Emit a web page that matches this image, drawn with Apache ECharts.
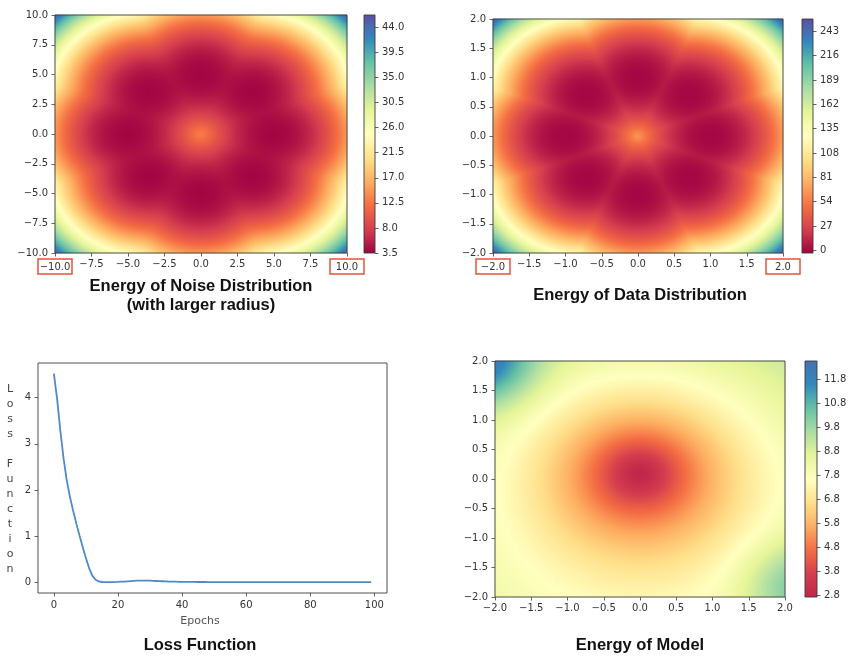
<!DOCTYPE html>
<html><head><meta charset="utf-8">
<script src="https://cdn.jsdelivr.net/npm/echarts@6/dist/echarts.min.js"></script>
<style>html,body{margin:0;padding:0;background:#fff}#c{width:850px;height:658px}</style>
</head><body><div id="c"></div>
<script>
// ---------------- data ----------------
const spectral = ['#9e0142','#d53e4f','#f46d43','#fdae61','#fee08b','#ffffbf','#e6f598','#abdda4','#66c2a5','#3288bd','#5e4fa2'];
const spectralModel = ['#bf264a','#d53e4f','#f46d43','#fdae61','#fee08b','#ffffbf','#e6f598','#abdda4','#66c2a5','#3288bd','#4471b2'];

const noiseAxisRange = [-10, 10];
const dataAxisRange = [-2, 2];
const modelAxisRange = [-2, 2];
const noiseBoxedTicks = [-10, 10];
const dataBoxedTicks = [-2, 2];

const noiseBarTicks = [3.5, 8.0, 12.5, 17.0, 21.5, 26.0, 30.5, 35.0, 39.5, 44.0];
const dataBarTicks = [0, 27, 54, 81, 108, 135, 162, 189, 216, 243];
const modelBarTicks = [2.8, 3.8, 4.8, 5.8, 6.8, 7.8, 8.8, 9.8, 10.8, 11.8];
const noiseBarRange = [3.5, 46.2];
const dataBarRange = [-3.0, 256.7];
const modelBarRange = [2.74, 12.58];

// 8-mode mixtures (angles of the modes, radius, spread, shape exponent, energy offset)
const modeAnglesDeg = [0, 45, 90, 135, 180, 225, 270, 315];
const noiseRadius = 5.0, noiseSigma = 1.224, noiseOffset = 3.92;
const dataRadius = 1.0, dataSigma = 0.1073, dataOffset = 0.0;
const modeShape = 2.2;

// model energy surface parameters
const modelCenter = [0.0, 0.1];
const modelFloor = 2.8;
const modelBowl = [7.0, 1.45, 0.2];     // amplitude, length, core softness
const modelTiltY = 0.25;
const modelBumps = [                    // [x, y, amplitude, width]
  [-2.2, 2.0, 3.2, 0.52],
  [2.2, -1.8, 2.1, 0.55]
];

// loss curve (one value per epoch)
const lossValues = [4.52,3.98,3.30,2.70,2.22,1.86,1.56,1.28,1.02,0.77,
 0.53,0.31,0.15,0.06,0.025,0.012,0.008,0.008,0.009,0.011,
 0.014,0.018,0.022,0.027,0.032,0.036,0.040,0.042,0.043,0.042,
 0.040,0.037,0.034,0.031,0.028,0.025,0.022,0.020,0.018,0.016,
 0.015,0.014,0.014,0.013,0.013,0.012,0.012,0.012,0.011,0.011,
 0.011,0.011,0.011,0.010,0.010,0.010,0.010,0.010,0.010,0.010,
 0.010,0.010,0.010,0.010,0.010,0.010,0.010,0.010,0.009,0.009,
 0.009,0.009,0.009,0.009,0.009,0.009,0.009,0.009,0.009,0.009,
 0.009,0.009,0.009,0.009,0.009,0.009,0.009,0.009,0.009,0.009,
 0.009,0.009,0.009,0.009,0.009,0.009,0.009,0.009,0.009,0.009];
const lossXTicks = [0, 20, 40, 60, 80, 100];
const lossYTicks = [0, 1, 2, 3, 4];
const lossXRange = [-4.95, 103.95];
const lossYRange = [-0.226, 4.75];

// ---------------- helpers ----------------
const TICK_FONT = 'DejaVu Sans';
const TEXT_COLOR = '#333';
const FRAME = '#3a3a3a';
const fmt1 = v => v.toFixed(1).replace('-', '\u2212');

function modeCenters(r) { return modeAnglesDeg.map(a => [r * Math.cos(a * Math.PI / 180), r * Math.sin(a * Math.PI / 180)]); }
function mixtureEnergy(x, y, centers, sigma, offset) {
  const t = centers.map(([cx, cy]) => -0.5 * Math.pow(Math.hypot(x - cx, y - cy) / sigma, modeShape));
  const m = Math.max(...t);
  let s = 0; for (const v of t) s += Math.exp(v - m);
  return offset - (m + Math.log(s));
}
function modelEnergy(x, y) {
  const u = x - modelCenter[0], v = y - modelCenter[1];
  const c = modelBowl[2];
  const rho = Math.sqrt(u * u + v * v + c * c) - c;
  let e = modelFloor + modelBowl[0] * (1 - Math.exp(-rho / modelBowl[1])) + modelTiltY * v;
  for (const [bx, by, amp, w] of modelBumps) e += amp * Math.exp(-((x - bx) ** 2 + (y - by) ** 2) / (2 * w * w));
  return e;
}
function buildCells(nx, ny, range, fn, clampR) {
  const out = [];
  const dx = (range[1] - range[0]) / nx, dy = (range[1] - range[0]) / ny;
  for (let i = 0; i < nx; i++) {
    const x = range[0] + (i + 0.5) * dx;
    for (let j = 0; j < ny; j++) {
      const y = range[0] + (j + 0.5) * dy;
      const e = Math.min(clampR[1], Math.max(clampR[0], fn(x, y)));
      out.push([i, j, e]);
    }
  }
  return out;
}
const idx = n => Array.from({ length: n }, (_, i) => i);

const noiseCentersArr = modeCenters(noiseRadius);
const dataCentersArr = modeCenters(dataRadius);

const panels = [
  { key: 'noise', grid: { left: 55, top: 15, width: 292, height: 238 }, bar: { left: 364, width: 11 },
    nx: 146, ny: 119, range: noiseAxisRange, interval: 2.5, boxed: noiseBoxedTicks,
    fn: (x, y) => mixtureEnergy(x, y, noiseCentersArr, noiseSigma, noiseOffset),
    barRange: noiseBarRange, barTicks: noiseBarTicks, barFmt: v => v.toFixed(1), colors: spectral },
  { key: 'data', grid: { left: 493, top: 19, width: 290, height: 234 }, bar: { left: 802, width: 11 },
    nx: 145, ny: 117, range: dataAxisRange, interval: 0.5, boxed: dataBoxedTicks,
    fn: (x, y) => mixtureEnergy(x, y, dataCentersArr, dataSigma, dataOffset),
    barRange: dataBarRange, barTicks: dataBarTicks, barFmt: v => String(Math.round(v)), colors: spectral },
  { key: 'model', grid: { left: 495, top: 361, width: 290, height: 236 }, bar: { left: 805, width: 12 },
    nx: 145, ny: 118, range: modelAxisRange, interval: 0.5, boxed: [],
    fn: modelEnergy,
    barRange: modelBarRange, barTicks: modelBarTicks, barFmt: v => v.toFixed(1), colors: spectralModel }
];

const grids = [], xAxes = [], yAxes = [], series = [], visualMaps = [];
const tickStyle = { show: true, inside: false, length: 3.5, lineStyle: { color: FRAME, width: 0.8 } };
const labelBase = { fontFamily: TICK_FONT, fontSize: 10, color: TEXT_COLOR };
const noLine = { show: false, onZero: false };

panels.forEach(p => {
  const g = grids.length;
  grids.push(Object.assign({ show: true, z: 10, borderColor: FRAME, borderWidth: 0.9, backgroundColor: 'transparent' }, p.grid));
  const xCat = xAxes.length;
  xAxes.push({ type: 'category', gridIndex: g, position: 'top', data: idx(p.nx), show: false, boundaryGap: true });
  const yCat = yAxes.length;
  yAxes.push({ type: 'category', gridIndex: g, position: 'right', data: idx(p.ny), show: false, boundaryGap: true });
  const boxed = p.boxed;
  xAxes.push({ type: 'value', gridIndex: g, position: 'bottom', min: p.range[0], max: p.range[1], interval: p.interval,
    axisLine: noLine, splitLine: { show: false }, axisTick: tickStyle,
    axisLabel: Object.assign({ margin: 6, showMinLabel: true, showMaxLabel: true,
      formatter: v => boxed.includes(v) ? '{box|' + fmt1(v) + '}' : fmt1(v),
      rich: { box: Object.assign({ borderColor: '#e8513a', borderWidth: 1.5, padding: [3, 2, 2, 2], width: 30, align: 'center' }, labelBase) } }, labelBase) });
  yAxes.push({ type: 'value', gridIndex: g, position: 'left', min: p.range[0], max: p.range[1], interval: p.interval,
    axisLine: noLine, splitLine: { show: false }, axisTick: tickStyle,
    axisLabel: Object.assign({ margin: 7, showMinLabel: true, showMaxLabel: true, formatter: v => fmt1(v) }, labelBase) });
  const sIdx = series.length;
  series.push({ type: 'heatmap', name: p.key, xAxisIndex: xCat, yAxisIndex: yCat,
    data: buildCells(p.nx, p.ny, p.range, p.fn, p.barRange), progressive: 0, silent: true, z: 2,
    emphasis: { disabled: true }, animation: false });
  visualMaps.push({ type: 'continuous', show: false, seriesIndex: sIdx, dimension: 2,
    min: p.barRange[0], max: p.barRange[1], inRange: { color: p.colors } });

  // colorbar
  const cg = grids.length;
  grids.push({ left: p.bar.left, width: p.bar.width, top: p.grid.top, height: p.grid.height, show: false });
  const cbx = xAxes.length;
  xAxes.push({ type: 'category', gridIndex: cg, data: ['cb'], show: false, boundaryGap: true });
  const cby = yAxes.length;
  yAxes.push({ type: 'value', gridIndex: cg, position: 'right', min: p.barRange[0], max: p.barRange[1],
    axisLine: noLine, splitLine: { show: false },
    axisTick: Object.assign({ customValues: p.barTicks }, tickStyle),
    axisLabel: Object.assign({ margin: 7, customValues: p.barTicks, formatter: v => p.barFmt(v) }, labelBase) });
  const stops = p.colors.map((c, k) => ({ offset: k / (p.colors.length - 1), color: c }));
  series.push({ type: 'custom', xAxisIndex: cbx, yAxisIndex: cby, silent: true, animation: false,
    data: [[0, p.barRange[0], p.barRange[1]]],
    renderItem: (params, api) => {
      const lo = api.coord([0, api.value(1)]);
      const hi = api.coord([0, api.value(2)]);
      const w = api.size([1, 0])[0];
      return { type: 'rect', shape: { x: lo[0] - w / 2, y: hi[1], width: w, height: lo[1] - hi[1] },
        style: { fill: new echarts.graphic.LinearGradient(0, 1, 0, 0, stops), stroke: FRAME, lineWidth: 0.9 } };
    } });
});

// loss panel
const lg = grids.length;
grids.push({ left: 38, top: 363, width: 349, height: 230, show: true, z: 10, borderColor: FRAME, borderWidth: 0.9, backgroundColor: 'transparent' });
const lx = xAxes.length;
xAxes.push({ type: 'value', gridIndex: lg, position: 'bottom', min: lossXRange[0], max: lossXRange[1],
  axisLine: noLine, splitLine: { show: false },
  axisTick: Object.assign({ customValues: lossXTicks }, tickStyle),
  axisLabel: Object.assign({ margin: 7, customValues: lossXTicks }, labelBase) });
const ly = yAxes.length;
yAxes.push({ type: 'value', gridIndex: lg, position: 'left', min: lossYRange[0], max: lossYRange[1],
  axisLine: noLine, splitLine: { show: false },
  axisTick: Object.assign({ customValues: lossYTicks }, tickStyle),
  axisLabel: Object.assign({ margin: 7, customValues: lossYTicks }, labelBase) });
series.push({ type: 'line', name: 'loss', xAxisIndex: lx, yAxisIndex: ly, showSymbol: false, silent: true,
  data: lossValues.map((v, epoch) => [epoch, v]), lineStyle: { color: '#4d8ac6', width: 1.8 }, animation: false });

const titleFont = { fontFamily: '"Liberation Sans", Arial, Helvetica, sans-serif', fontWeight: 'bold', fontSize: 16.5, fill: '#111' };
function txt(text, x, y, extra) {
  return { type: 'text', x, y, silent: true, z: 20,
    style: Object.assign({ text, align: 'center', verticalAlign: 'middle', textAlign: 'center', textVerticalAlign: 'middle' }, titleFont, extra || {}) };
}

const chart = echarts.init(document.getElementById('c'), null, { renderer: 'canvas' });
chart.setOption({
  animation: false,
  backgroundColor: '#fff',
  grid: grids, xAxis: xAxes, yAxis: yAxes, visualMap: visualMaps, series,
  graphic: [
    txt('Energy of Noise Distribution', 201, 286),
    txt('(with larger radius)', 201, 305),
    txt('Energy of Data Distribution', 640, 295),
    txt('Loss Function', 200, 645),
    txt('Energy of Model', 640, 645),
    txt('Epochs', 200, 621, { fontFamily: TICK_FONT, fontWeight: 'normal', fontSize: 11, fill: '#555' }),
    txt('L\no\ns\ns\n\nF\nu\nn\nc\nt\ni\no\nn', 10, 479, { fontFamily: TICK_FONT, fontWeight: 'normal', fontSize: 11, fill: '#444', lineHeight: 15 })
  ]
});
</script></body></html>
